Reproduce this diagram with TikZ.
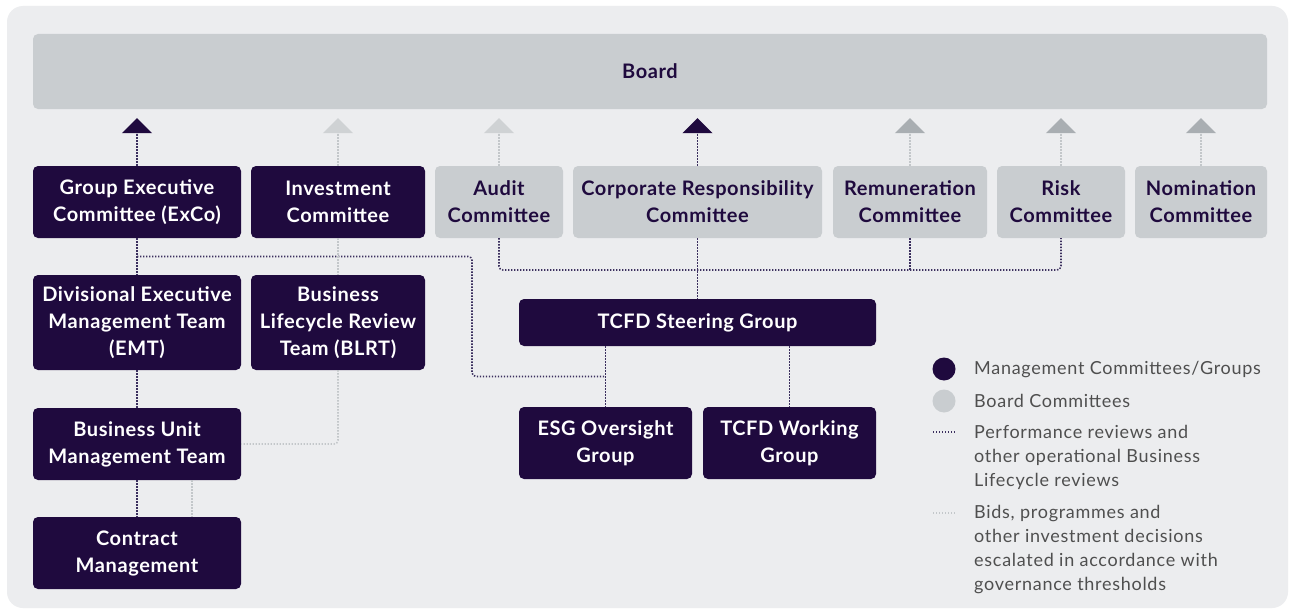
\documentclass[tikz,border=0pt]{standalone}
\usepackage{fontspec}
\setmainfont{Lato}
\newfontfamily\boxfont[LetterSpace=3]{Lato}
\newfontfamily\legendfont[LetterSpace=4]{Lato}
\usetikzlibrary{arrows.meta,calc}
\definecolor{navy}{HTML}{1F0A3E}
\definecolor{boardgray}{HTML}{C9CDD0}
\definecolor{panel}{HTML}{ECEDEF}
\definecolor{tipgray}{HTML}{A9AEB2}
\definecolor{tiplight}{HTML}{CFD2D4}
\definecolor{dotdark}{HTML}{3B2F5E}
\definecolor{dotlight}{HTML}{C3C7CA}
\definecolor{legendtext}{HTML}{4F4F4F}
\tikzset{
  boxbase/.style={rounded corners=5pt, align=center, inner sep=0pt,
    font=\boxfont\bfseries\fontsize{20}{27}\selectfont},
  mgmt/.style={boxbase, fill=navy, text=white},
  bcom/.style={boxbase, fill=boardgray, text=navy},
  darkdot/.style={draw=dotdark, line width=1.6pt, dash pattern=on 1.4pt off 1.6pt},
  lightdot/.style={draw=dotlight, line width=1.6pt, dash pattern=on 1.4pt off 1.6pt},
  uptip/.style={-{Triangle[width=30pt,length=15pt,color=#1]}, shorten >=9pt},
  legend/.style={anchor=west, align=left, text=legendtext, inner sep=0pt,
    font=\legendfont\fontsize{18}{24}\selectfont},
}
\begin{document}
\begin{tikzpicture}[x=1pt,y=-1pt]
\useasboundingbox (0,0) rectangle (1290,610);
\fill[white] (0,0) rectangle (1290,610);
\fill[panel, rounded corners=16pt] (7,6) rectangle (1288,608);

% Board
\node[bcom, minimum width=1234pt, minimum height=75pt] (board) at (650,71.5) {Board};

% first row
\node[mgmt, minimum width=208pt, minimum height=72pt] (exco) at (137,202) {Group Executive\\Committee (ExCo)};
\node[mgmt, minimum width=174pt, minimum height=72pt] (invest) at (338,202) {Investment\\Committee};
\node[bcom, minimum width=128pt, minimum height=72pt] (audit) at (499,202) {Audit\\Committee};
\node[bcom, minimum width=249pt, minimum height=72pt] (crc) at (697.5,202) {Corporate Responsibility\\Committee};
\node[bcom, minimum width=154pt, minimum height=72pt] (remun) at (910,202) {Remuneration\\Committee};
\node[bcom, minimum width=128pt, minimum height=72pt] (risk) at (1061,202) {Risk\\Committee};
\node[bcom, minimum width=132pt, minimum height=72pt] (nomin) at (1201,202) {Nomination\\Committee};

% second row
\node[mgmt, minimum width=208pt, minimum height=95pt] (emt) at (137,322.5) {Divisional Executive\\Management Team\\(EMT)};
\node[mgmt, minimum width=174pt, minimum height=95pt] (blrt) at (338,322.5) {Business\\Lifecycle Review\\Team (BLRT)};
\node[mgmt, minimum width=357pt, minimum height=47pt] (steer) at (697.5,322.5) {TCFD Steering Group};

% third row
\node[mgmt, minimum width=208pt, minimum height=72pt] (bumt) at (137,444) {Business Unit\\Management Team};
\node[mgmt, minimum width=173pt, minimum height=72pt] (esg) at (605.5,443) {ESG Oversight\\Group};
\node[mgmt, minimum width=173pt, minimum height=72pt] (work) at (789.5,443) {TCFD Working\\Group};

% fourth row
\node[mgmt, minimum width=208pt, minimum height=72pt] (contract) at (137,553) {Contract\\Management};

% reporting lines up to the Board
\draw[darkdot, uptip=navy] (exco.north) -- (exco.north |- board.south);
\draw[lightdot, uptip=tiplight] (invest.north) -- (invest.north |- board.south);
\draw[lightdot, uptip=tiplight] (audit.north) -- (audit.north |- board.south);
\draw[darkdot, uptip=navy] (crc.north) -- (crc.north |- board.south);
\draw[lightdot, uptip=tipgray] (remun.north) -- (remun.north |- board.south);
\draw[lightdot, uptip=tipgray] (risk.north) -- (risk.north |- board.south);
\draw[lightdot, uptip=tipgray] (nomin.north) -- (nomin.north |- board.south);

% management chain
\coordinate (exjoin) at ($(exco.south)!0.5!(emt.north)$);
\coordinate (esgjoin) at ($(steer.south -| esg.north)!0.5!(esg.north)$);
\coordinate (exbend) at (472,256.5);
\coordinate (cmside) at (192,0);
\draw[darkdot] (exco.south) -- (emt.north);
\draw[darkdot, rounded corners=4pt] (exjoin) -- (exbend) -- (exbend |- esgjoin) -- (esgjoin);
\draw[darkdot] (emt.south) -- (bumt.north);
\draw[darkdot] (bumt.south) -- (contract.north);
\draw[lightdot] (cmside |- bumt.south) -- (cmside |- contract.north);

% investment chain
\draw[lightdot] (invest.south) -- (blrt.north);
\draw[lightdot, rounded corners=4pt] (blrt.south) -- (blrt.south |- bumt.east) -- (bumt.east);

% board committees to the steering group
\coordinate (bcjoin) at (0,270);
\draw[darkdot] (crc.south) -- (steer.north);
\draw[darkdot, rounded corners=4pt] (audit.south) -- (audit.south |- bcjoin) -- (risk.south |- bcjoin) -- (risk.south);
\draw[darkdot] (remun.south) -- (remun.south |- bcjoin);

\draw[darkdot] (esg.north |- steer.south) -- (esg.north);
\draw[darkdot] (work.north |- steer.south) -- (work.north);

% legend
\fill[navy] (944,369) circle (11.5pt);
\fill[boardgray] (944,401) circle (11.5pt);
\coordinate (ld1) at (933,432);
\coordinate (ld2) at (956,432);
\coordinate (ll1) at (933,513);
\coordinate (ll2) at (956,513);
\draw[darkdot, line width=1.3pt] (ld1) -- (ld2);
\draw[lightdot, line width=1.3pt] (ll1) -- (ll2);
\node[legend] (lg1) at (974,370) {Management Committees/Groups};
\node[legend] (lg2) at (974,401) {Board Committees};
\node[legend, anchor=north west] (lg3) at (974,425) {Performance reviews and\\other operational Business\\Lifecycle reviews};
\node[legend, anchor=north west] (lg4) at (974,505) {Bids, programmes and\\other investment decisions\\escalated in accordance with\\governance thresholds};
\end{tikzpicture}
\end{document}
